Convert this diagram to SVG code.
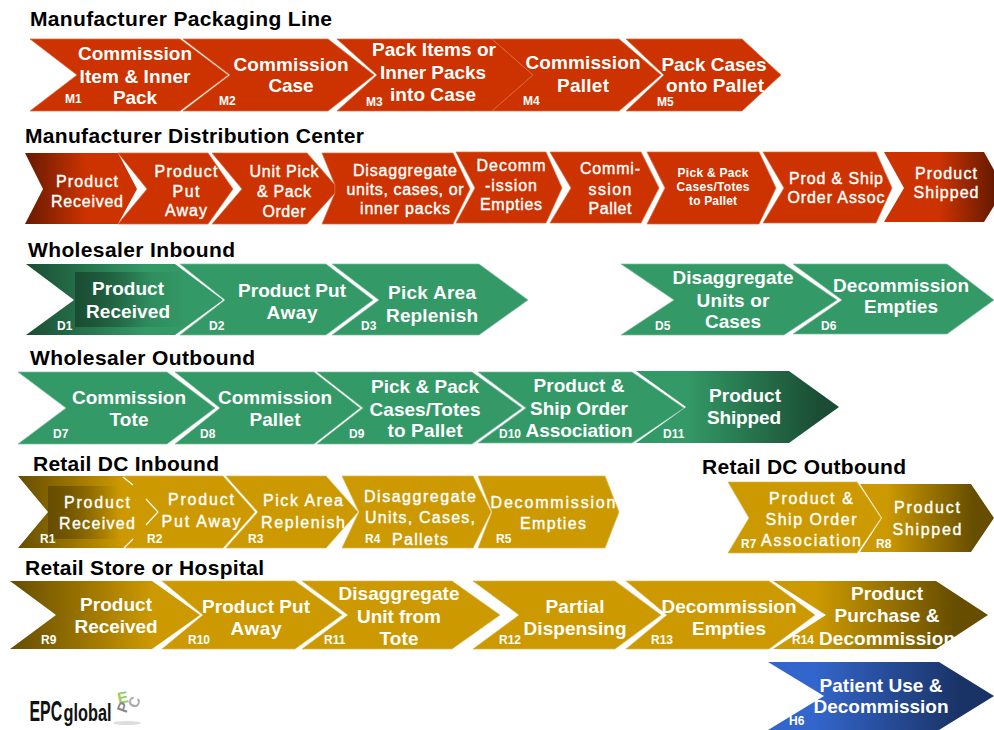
<svg xmlns="http://www.w3.org/2000/svg" width="994" height="730" viewBox="0 0 994 730">
<style>
text{font-family:"Liberation Sans",Arial,sans-serif;font-weight:700;text-anchor:middle}
.h{font-size:21px;fill:#000;text-anchor:start}
.l{font-size:19px;fill:#fff}
.s{font-size:16px;fill:#fff;font-weight:400;stroke:#fff;stroke-width:.4}
.t{font-size:12px;fill:#fff}
.i{font-size:12px;fill:#fff;text-anchor:start}
.r{fill:#c30;stroke:#dd6a3f;stroke-width:.7}
.g{fill:#396;stroke:#7fbb9d;stroke-width:.7}
.y{fill:#c90;stroke:#dcb84a;stroke-width:.7}
.w{fill:none;stroke:#fff;stroke-width:1.2}
.lg{fill:#111;text-anchor:start}
</style>
<defs>
<linearGradient id="redIn"><stop offset="0" stop-color="#661a00"/><stop offset=".55" stop-color="#c30"/></linearGradient>
<linearGradient id="redOut"><stop offset=".5" stop-color="#c30"/><stop offset="1" stop-color="#661a00"/></linearGradient>
<linearGradient id="greenIn"><stop offset="0" stop-color="#1a4d33"/><stop offset=".6" stop-color="#396"/></linearGradient>
<linearGradient id="greenOut"><stop offset=".25" stop-color="#396"/><stop offset=".9" stop-color="#1a4d33"/></linearGradient>
<linearGradient id="goldIn"><stop offset="0" stop-color="#664d00"/><stop offset=".75" stop-color="#c90"/></linearGradient>
<linearGradient id="goldOut"><stop offset=".2" stop-color="#c90"/><stop offset=".85" stop-color="#664d00"/></linearGradient>
<linearGradient id="blue"><stop offset=".2" stop-color="#36c"/><stop offset=".85" stop-color="#1a3366"/></linearGradient>
<linearGradient id="greenShade"><stop offset="0" stop-color="#1a4d33"/><stop offset=".7" stop-color="#1a4d33" stop-opacity=".15"/><stop offset="1" stop-color="#1a4d33" stop-opacity="0"/></linearGradient>
<linearGradient id="goldShade"><stop offset="0" stop-color="#664d00"/><stop offset=".6" stop-color="#664d00" stop-opacity=".4"/><stop offset="1" stop-color="#664d00" stop-opacity="0"/></linearGradient>
</defs>

<g id="headings">
<text class="h" x="30" y="26" textLength="302">Manufacturer Packaging Line</text>
<text class="h" x="25" y="143" textLength="339">Manufacturer Distribution Center</text>
<text class="h" x="28" y="257" textLength="207">Wholesaler Inbound</text>
<text class="h" x="30" y="365" textLength="225">Wholesaler Outbound</text>
<text class="h" x="33" y="471" textLength="186">Retail DC Inbound</text>
<text class="h" x="702" y="474" textLength="204">Retail DC Outbound</text>
<text class="h" x="25" y="575" textLength="239">Retail Store or Hospital</text>
</g>

<g id="M1"><polygon class="r" points="30,39 180,39 228,75 180,111 30,111 77,75"/>
<text class="l" x="135" y="60" textLength="114">Commission</text><text class="l" x="135" y="83" textLength="111">Item &amp; Inner</text><text class="l" x="135" y="104" textLength="44">Pack</text><text class="i" x="65" y="103">M1</text></g>
<g id="M2"><polygon class="r" points="183,39 328,39 374,75 328,111 183,111 230,75"/>
<text class="l" x="291" y="71" textLength="115">Commission</text><text class="l" x="291" y="92" textLength="45">Case</text><text class="i" x="219" y="105">M2</text></g>
<g id="M3"><polygon class="r" points="337,39 492,39 533,75 492,111 337,111 377,75"/>
<text class="l" x="434" y="56" textLength="124">Pack Items or</text><text class="l" x="433" y="79" textLength="106">Inner Packs</text><text class="l" x="433" y="101" textLength="86">into Case</text><text class="i" x="366" y="106">M3</text></g>
<g id="M4"><polygon class="r" points="492,39 619,39 661,75 619,111 492,111 533,75"/>
<text class="l" x="583" y="69" textLength="115">Commission</text><text class="l" x="583" y="92" textLength="52">Pallet</text><text class="i" x="523" y="105">M4</text></g>
<g id="M5"><polygon class="r" points="626,39 742,39 781,75 742,111 626,111 664,75"/>
<text class="l" x="714" y="71" textLength="105">Pack Cases</text><text class="l" x="715" y="92" textLength="98">onto Pallet</text><text class="i" x="657" y="106">M5</text></g>

<g id="MD1"><polygon points="25,153 118,153 137,189 118,224 25,224 43,189" fill="url(#redIn)"/>
<text class="s" x="87" y="187" textLength="62">Product</text><text class="s" x="87" y="207" textLength="72">Received</text></g>
<g id="MD2"><polygon class="r" points="118,153 208,153 233,189 208,224 118,224 147,189"/>
<text class="s" x="186" y="177" textLength="63">Product</text><text class="s" x="186" y="197" textLength="27">Put</text><text class="s" x="186" y="216" textLength="42">Away</text></g>
<g id="MD3"><polygon class="r" points="212,153 307,153 335,185 335,193 307,224 212,224 242,189"/>
<text class="s" x="284" y="177" textLength="69">Unit Pick</text><text class="s" x="284" y="197" textLength="54">&amp; Pack</text><text class="s" x="284" y="217" textLength="43">Order</text></g>
<g id="MD4"><polygon class="r" points="322,153 453,153 470,189 453,224 322,224 335,193 335,185"/>
<text class="s" x="405" y="176" textLength="104">Disaggregate</text><text class="s" x="405" y="195" textLength="117">units, cases, or</text><text class="s" x="405" y="214" textLength="90">inner packs</text></g>
<g id="MD5"><polygon class="r" points="456,152 546,152 562,188 546,223 456,223 475,188"/>
<text class="s" x="511" y="171" textLength="69">Decomm</text><text class="s" x="511" y="191" textLength="52">-ission</text><text class="s" x="511" y="210" textLength="62">Empties</text></g>
<g id="MD6"><polygon class="r" points="550,152 641,152 659,188 641,223 550,223 571,188"/>
<text class="s" x="610" y="174" textLength="60">Commi-</text><text class="s" x="610" y="195" textLength="43">ssion</text><text class="s" x="610" y="214" textLength="43">Pallet</text></g>
<g id="MD7"><polygon class="r" points="647,152 759,152 776,188 759,224 647,224 665,188"/>
<text class="t" x="713" y="177" textLength="71">Pick &amp; Pack</text><text class="t" x="713" y="191" textLength="73">Cases/Totes</text><text class="t" x="713" y="205" textLength="48">to Pallet</text></g>
<g id="MD8"><polygon class="r" points="763,152 876,152 892,188 876,223 763,223 784,188"/>
<text class="s" x="836" y="184" textLength="94">Prod &amp; Ship</text><text class="s" x="836" y="203" textLength="97">Order Assoc</text></g>
<g id="MD9"><polygon points="884,152 984,152 994,170 994,206 984,222 884,222 904,188" fill="url(#redOut)"/>
<text class="s" x="946" y="179" textLength="62">Product</text><text class="s" x="946" y="198" textLength="65">Shipped</text></g>

<g id="D1"><polygon points="26,264 175,264 223,300 175,335 26,335 74,300" fill="url(#greenIn)"/><rect x="75" y="272" width="110" height="55" fill="url(#greenShade)"/>
<text class="l" x="128" y="295" textLength="72">Product</text><text class="l" x="128" y="318" textLength="84">Received</text><text class="i" x="57" y="330">D1</text></g>
<g id="D2"><polygon class="g" points="180,264 326,264 373,300 326,335 180,335 225,300"/>
<text class="l" x="292" y="297" textLength="108">Product Put</text><text class="l" x="292" y="319" textLength="51">Away</text><text class="i" x="209" y="330">D2</text></g>
<g id="D3"><polygon class="g" points="332,264 479,264 528,300 479,335 332,335 379,300"/>
<text class="l" x="432" y="299" textLength="88">Pick Area</text><text class="l" x="432" y="322" textLength="92">Replenish</text><text class="i" x="361" y="330">D3</text></g>
<g id="D5"><polygon class="g" points="621,264 784,264 837,300 784,335 621,335 674,300"/>
<text class="l" x="733" y="284" textLength="121">Disaggregate</text><text class="l" x="733" y="307" textLength="73">Units or</text><text class="l" x="733" y="328" textLength="56">Cases</text><text class="i" x="655" y="330">D5</text></g>
<g id="D6"><polygon class="g" points="793,264 947,264 994,300 947,334 793,334 842,300"/>
<text class="l" x="901" y="292" textLength="136">Decommission</text><text class="l" x="901" y="313" textLength="74">Empties</text><text class="i" x="821" y="330">D6</text></g>

<g id="D7"><polygon class="g" points="18,372 167,372 215,408 167,444 18,444 66,408"/>
<text class="l" x="129" y="404" textLength="114">Commission</text><text class="l" x="129" y="426" textLength="39">Tote</text><text class="i" x="53" y="438">D7</text></g>
<g id="D8"><polygon class="g" points="175,372 314,372 360,408 314,444 175,444 220,408"/>
<text class="l" x="275" y="404" textLength="114">Commission</text><text class="l" x="275" y="426" textLength="51">Pallet</text><text class="i" x="200" y="438">D8</text></g>
<g id="D9"><polygon class="g" points="317,372 472,372 522,408 472,444 317,444 363,408"/>
<text class="l" x="425" y="393" textLength="108">Pick &amp; Pack</text><text class="l" x="425" y="416" textLength="111">Cases/Totes</text><text class="l" x="425" y="437" textLength="75">to Pallet</text><text class="i" x="349" y="438">D9</text></g>
<g id="D10"><polygon class="g" points="478,372 632,372 684,408 632,443 478,443 526,408"/>
<text class="l" x="579" y="392" textLength="91">Product &amp;</text><text class="l" x="579" y="415" textLength="98">Ship Order</text><text class="l" x="579" y="437" textLength="107">Association</text><text class="i" x="499" y="438">D10</text></g>
<g id="D11"><polygon points="636,371 789,371 839,407 789,443 636,443 686,407" fill="url(#greenOut)"/>
<text class="l" x="745" y="402" textLength="72">Product</text><text class="l" x="744" y="424" textLength="74">Shipped</text><text class="i" x="663" y="438">D11</text></g>

<g id="R2"><polygon class="y" points="125,476 223,476 255,512 223,548 125,548 146,512"/>
<text class="s" x="201" y="505" textLength="66">Product</text><text class="s" x="201" y="527" textLength="79">Put Away</text><text class="i" x="147" y="543">R2</text></g>
<g id="R1"><polygon points="18,476 125,476 157,512 125,548 18,548 48,512" fill="url(#goldIn)"/><rect x="48" y="486" width="70" height="53" fill="url(#goldShade)"/>
<path class="w" d="M123,477 133,485M133,539 124,548M146,499 158,512 146,525"/>
<text class="s" x="97" y="508" textLength="66">Product</text><text class="s" x="97" y="529" textLength="76">Received</text><text class="i" x="40" y="543">R1</text></g>
<g id="R3"><polygon class="y" points="226,476 326,476 358,512 326,548 226,548 258,512"/>
<text class="s" x="303" y="506" textLength="80">Pick Area</text><text class="s" x="303" y="528" textLength="84">Replenish</text><text class="i" x="248" y="543">R3</text></g>
<g id="R4"><polygon class="y" points="342,476 473,476 491,512 473,548 342,548 359,512"/>
<text class="s" x="420" y="502" textLength="112">Disaggregate</text><text class="s" x="420" y="523" textLength="110">Units, Cases,</text><text class="s" x="420" y="545" textLength="56">Pallets</text><text class="i" x="365" y="543">R4</text></g>
<g id="R5"><polygon class="y" points="478,476 605,476 619,512 605,548 478,548 492,512"/>
<text class="s" x="553" y="508" textLength="125">Decommission</text><text class="s" x="553" y="529" textLength="66">Empties</text><text class="i" x="496" y="543">R5</text></g>

<g id="R7"><polygon class="y" points="728,482 857,482 881,518 857,553 728,553 749,518"/>
<text class="s" x="811" y="504" textLength="84">Product &amp;</text><text class="s" x="811" y="525" textLength="91">Ship Order</text><text class="s" x="811" y="546" textLength="100">Association</text><text class="i" x="741" y="548">R7</text></g>
<g id="R8"><polygon points="860,484 971,484 994,518 971,552 860,552 882,518" fill="url(#goldOut)"/>
<text class="s" x="927" y="513" textLength="66">Product</text><text class="s" x="927" y="535" textLength="69">Shipped</text><text class="i" x="876" y="548">R8</text></g>

<g id="R9"><polygon points="10,581 152,581 200,615 152,649 10,649 56,615" fill="url(#goldIn)"/>
<text class="l" x="116" y="611" textLength="72">Product</text><text class="l" x="116" y="633" textLength="83">Received</text><text class="i" x="41" y="644">R9</text></g>
<g id="R10"><polygon class="y" points="162,581 295,581 342,615 295,649 162,649 203,615"/>
<text class="l" x="256" y="613" textLength="108">Product Put</text><text class="l" x="256" y="635" textLength="51">Away</text><text class="i" x="188" y="644">R10</text></g>
<g id="R11"><polygon class="y" points="302,581 452,581 500,615 452,649 302,649 348,615"/>
<text class="l" x="399" y="600" textLength="121">Disaggregate</text><text class="l" x="399" y="623" textLength="84">Unit from</text><text class="l" x="399" y="645" textLength="39">Tote</text><text class="i" x="324" y="644">R11</text></g>
<g id="R12"><polygon class="y" points="473,581 615,581 661,615 615,649 473,649 519,615"/>
<text class="l" x="575" y="613" textLength="59">Partial</text><text class="l" x="575" y="635" textLength="103">Dispensing</text><text class="i" x="499" y="644">R12</text></g>
<g id="R13"><polygon class="y" points="626,581 769,581 815,615 769,649 626,649 667,615"/>
<text class="l" x="729" y="613" textLength="135">Decommission</text><text class="l" x="729" y="635" textLength="74">Empties</text><text class="i" x="651" y="644">R13</text></g>
<g id="R14"><polygon points="773,581 936,581 988,615 936,649 773,649 826,615" fill="url(#goldOut)"/>
<text class="l" x="887" y="600" textLength="72">Product</text><text class="l" x="887" y="622" textLength="105">Purchase &amp;</text><text class="l" x="887" y="645" textLength="136">Decommission</text><text class="i" x="792" y="644">R14</text></g>

<g id="H6"><polygon points="768,662 939,662 994,696 939,730 768,730 824,696" fill="url(#blue)"/>
<text class="l" x="881" y="692" textLength="123">Patient Use &amp;</text><text class="l" x="881" y="713" textLength="135">Decommission</text><text class="i" x="789" y="725">H6</text></g>

<g id="logo">
<ellipse cx="127" cy="723" rx="14" ry="2" fill="#ddd"/>
<text class="lg" style="font-size:30px" transform="translate(29.500 721) scale(.53 1)">EPC</text>
<text class="lg" style="font-size:24px" transform="translate(63.500 721) scale(.68 1)">global</text>
<text x="124" y="703" style="font-size:16px;fill:#9c6" transform="rotate(-12 124 703)">E</text>
<text x="128" y="709" style="font-size:15px;fill:#888" transform="rotate(-70 128 709)">P</text>
<text x="139" y="704" style="font-size:15px;fill:#aaa" transform="rotate(-70 139 704)">C</text>
</g>
</svg>
